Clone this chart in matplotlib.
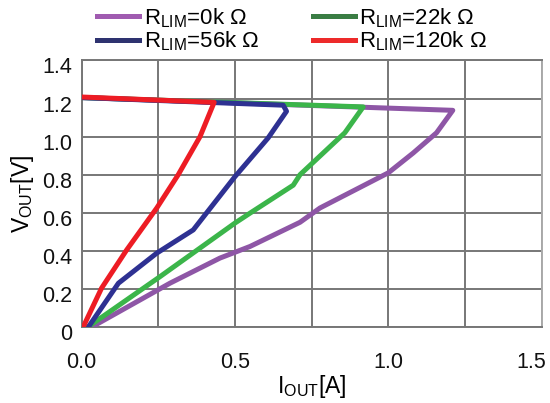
import matplotlib
matplotlib.use("Agg")
import matplotlib.pyplot as plt
import matplotlib.transforms as mtransforms
from matplotlib.lines import Line2D

plt.rcParams['font.family'] = ['Liberation Sans', 'DejaVu Sans']

# Kennlinien V_OUT über I_OUT für verschiedene R_LIM
i_0k = [0.0, 1.21, 1.157, 1.081, 1.0, 0.777, 0.712, 0.549, 0.451, 0.288, 0.033]
v_0k = [1.205, 1.138, 1.02, 0.914, 0.81, 0.625, 0.55, 0.423, 0.362, 0.23, 0.0]

i_22k = [0.0, 0.918, 0.858, 0.712, 0.69, 0.549, 0.5, 0.256, 0.02]
v_22k = [1.205, 1.156, 1.02, 0.80, 0.745, 0.598, 0.546, 0.265, 0.0]

i_56k = [0.0, 0.657, 0.668, 0.608, 0.5, 0.364, 0.245, 0.12, 0.022]
v_56k = [1.205, 1.165, 1.133, 0.993, 0.79, 0.51, 0.388, 0.23, 0.0]

i_120k = [0.0, 0.432, 0.386, 0.315, 0.245, 0.147, 0.065, 0.005]
v_120k = [1.208, 1.18, 1.0, 0.8, 0.625, 0.405, 0.204, 0.0]

labels = ['0k', '22k', '56k', '120k']
farben = ['#8e56a6', '#3bb54a', '#2e3192', '#ed1c24']
legend_farben = ['#a05bb0', '#3a7d44', '#2e3370', '#ed2a2a']

x_ticks = [0.0, 0.5, 1.0, 1.5]
x_labels = ['0.0', '0.5', '1.0', '1.5']
y_ticks = [0, 0.2, 0.4, 0.6, 0.8, 1.0, 1.2, 1.4]
y_labels = ['0', '0.2', '0.4', '0.6', '0.8', '1.0', '1.2', '1.4']

fig = plt.figure(figsize=(5.5, 4.03), dpi=100)
ax = fig.add_axes([0.1484, 0.1886, 0.8366, 0.6614])

kurven = [(i_0k, v_0k), (i_22k, v_22k), (i_56k, v_56k), (i_120k, v_120k)]
for (x, y), c in zip(kurven, farben):
    ax.plot(x, y, color=c, lw=3.6, solid_joinstyle='round', solid_capstyle='round', zorder=3)

ax.set_xlim(0, 1.5)
ax.set_ylim(0, 1.4)
ax.set_xticks(x_ticks)
ax.set_xticks([0.25, 0.75, 1.25], minor=True)
ax.set_xticklabels(x_labels)
ax.set_yticks(y_ticks)
ax.set_yticklabels(y_labels)
ax.grid(True, which='both', color='#777777', lw=1.4)
ax.tick_params(which='both', length=0, labelsize=15.5, colors='#111111')
ax.tick_params(axis='x', pad=18)
ax.tick_params(axis='y', pad=6.5)
for s in ax.spines.values():
    s.set_color('#777777')
    s.set_linewidth(1.4)
ax.spines['right'].set_color('#aaaaaa')

# Beschriftungen leicht verschieben wie im Original
runter = mtransforms.ScaledTranslation(0, -5 / 100, fig.dpi_scale_trans)
for t in ax.get_yticklabels():
    t.set_transform(t.get_transform() + runter)
links = mtransforms.ScaledTranslation(-10 / 100, 0, fig.dpi_scale_trans)
letzte = ax.get_xticklabels()[-1]
letzte.set_transform(letzte.get_transform() + links)

ax.set_xlabel(r'$\mathregular{I_{OUT}[A]}$', fontsize=16.5, labelpad=0)
ax.set_ylabel(r'$\mathregular{V_{OUT}[V]}$', fontsize=16.5, labelpad=5)

handles = [Line2D([], [], color=c, lw=3.6) for c in legend_farben]
texte = [r'$\mathregular{R_{LIM}}$=%s Ω' % l for l in labels]
# Reihenfolge für ncol=2 (spaltenweise gefüllt)
reihenfolge = [0, 2, 1, 3]
fig.legend([handles[k] for k in reihenfolge], [texte[k] for k in reihenfolge],
           ncol=2, loc='upper left', bbox_to_anchor=(97 / 550, 1 - 6 / 403), frameon=False,
           fontsize=16, handlelength=1.9, handletextpad=0.2, columnspacing=2.4,
           labelspacing=0.0, borderpad=0, borderaxespad=0)

fig.savefig('out.png', dpi=100)
